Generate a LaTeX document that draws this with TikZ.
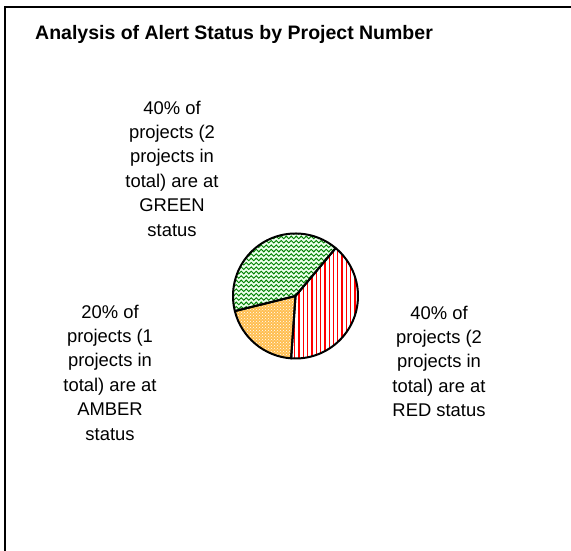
\documentclass[tikz,border=0pt]{standalone}
\usepackage{fontspec}
\setmainfont{Liberation Sans}
\usetikzlibrary{patterns,decorations.pathmorphing}
\definecolor{greenline}{RGB}{0,128,0}
\definecolor{amberfill}{RGB}{255,190,80}
\tikzstyle{lbl}=[align=center, inner sep=0pt, anchor=north,
    font=\fontsize{18.4}{24.4}\selectfont]
\tikzstyle{slice}=[draw=black, line width=2pt, line join=round]
\newcommand{\greenslice}{(pie) -- ++(50:62.5pt) arc[start angle=50,end angle=194,radius=62.5pt] -- cycle}
\newcommand{\amberslice}{(pie) -- ++(194:62.5pt) arc[start angle=194,end angle=266,radius=62.5pt] -- cycle}
\newcommand{\redslice}{(pie) -- ++(266:62.5pt) arc[start angle=266,end angle=410,radius=62.5pt] -- cycle}

\begin{document}
\begin{tikzpicture}[x=1pt,y=1pt]
  \useasboundingbox (0,0) rectangle (571,551);
  \draw[line width=1.5pt] (5,0) -- (5,544) -- (571,544);
  \node[anchor=base west, inner sep=0pt, font=\bfseries\fontsize{19.5}{23}\selectfont] (title) at (35,511) {Analysis of Alert Status by Project Number};

  \coordinate (pie) at (295.5,255);
  % green slice
  \begin{scope}
    \clip \greenslice;
    \fill[green!8] (225,185) rectangle (365,325);
    \foreach \y in {186,190.4,...,326}
      \draw[greenline, line width=0.9pt, decorate,
        decoration={zigzag, amplitude=1.3pt, segment length=5pt}] (225,\y) -- (365,\y);
  \end{scope}
  % amber slice
  \fill[amberfill] \amberslice;
  \fill[pattern=crosshatch dots, pattern color=white] \amberslice;
  % red slice
  \begin{scope}
    \clip \redslice;
    \foreach \x in {226,230.3,...,364}
      \draw[red, line width=1.3pt] (\x,185) -- (\x,325);
  \end{scope}
  \draw[slice] \greenslice;
  \draw[slice] \amberslice;
  \draw[slice] \redslice;

  \node[lbl] (green) at (172,450.5) {40\% of\\projects (2\\projects in\\total) are at\\GREEN\\status};
  \node[lbl] (amber) at (110,246.5) {20\% of\\projects (1\\projects in\\total) are at\\AMBER\\status};
  \node[lbl] (red) at (439,245.5) {40\% of\\projects (2\\projects in\\total) are at\\RED status};
\end{tikzpicture}
\end{document}
